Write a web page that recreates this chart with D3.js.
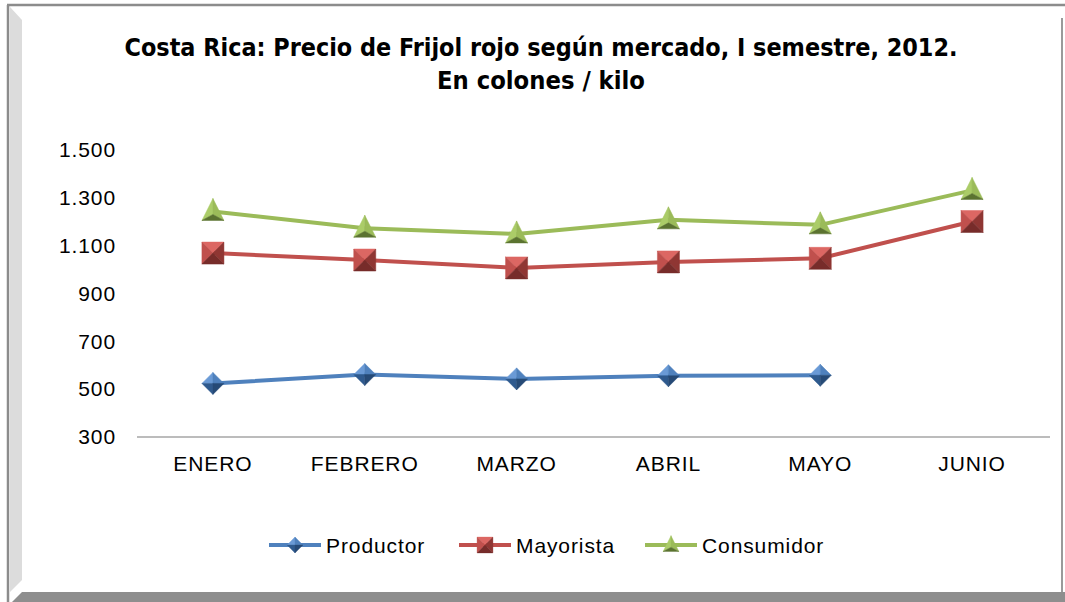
<!DOCTYPE html>
<html>
<head>
<meta charset="utf-8">
<script src="https://cdn.jsdelivr.net/npm/d3@7"></script>
<style>
  body { margin: 0; background: #fff; }
  svg { display: block; }
  .tick text, .leg { font-family: "Liberation Sans", Arial, sans-serif; font-size: 21px; letter-spacing: 0.9px; }
</style>
</head>
<body>
<div id="chart"></div>
<script>
// data
var meses = ["ENERO", "FEBRERO", "MARZO", "ABRIL", "MAYO", "JUNIO"];
var productor  = [524, 561, 543, 556, 558, null];
var mayorista  = [1069, 1040, 1007, 1032, 1047, 1201];
var consumidor = [1243, 1173, 1149, 1208, 1187, 1331];
var yTicks = [300, 500, 700, 900, 1100, 1300, 1500];
var nombres = ["Productor", "Mayorista", "Consumidor"];

var W = 1065, H = 602;
var svg = d3.select("#chart").append("svg").attr("width", W).attr("height", H);

// marco con bisel
svg.append("rect").attr("x", 0).attr("y", 0).attr("width", W).attr("height", H).attr("fill", "#fff");
svg.append("path").attr("d", "M7,5 H1065").attr("stroke", "#8c8c8c").attr("stroke-width", 2.5);
svg.append("path").attr("d", "M8,5 V602").attr("stroke", "#8c8c8c").attr("stroke-width", 2.5);
svg.append("path").attr("d", "M10,7 L22,20 L22,580 L10,592 Z").attr("fill", "#dcdcdc");
svg.append("path").attr("d", "M10,604 L22,592 L1065,592 L1065,614 L10,614 Z").attr("fill", "#8e8e8e");
svg.append("path").attr("d", "M1062,18 V592").attr("stroke", "#9a9a9a").attr("stroke-width", 2);

// titulo
var title = svg.append("text").attr("text-anchor", "middle")
  .style("font-family", "'Liberation Sans Narrow', 'DejaVu Sans Condensed', sans-serif")
  .style("font-weight", "bold").style("font-size", "24px").attr("fill", "#000");
title.append("tspan").attr("x", 541).attr("y", 56)
  .attr("textLength", 833).attr("lengthAdjust", "spacingAndGlyphs")
  .text("Costa Rica: Precio de Frijol rojo según mercado, I semestre, 2012.");
title.append("tspan").attr("x", 541).attr("y", 89)
  .attr("textLength", 208).attr("lengthAdjust", "spacingAndGlyphs")
  .text("En colones / kilo");

var m = { left: 137, right: 1048, top: 150, bottom: 437 };

var x = d3.scaleBand().domain(meses).range([m.left, m.right]);
var y = d3.scaleLinear().domain([300, 1500]).range([m.bottom, m.top]);

var loc = d3.formatLocale({ decimal: ",", thousands: ".", grouping: [3], currency: ["", ""] });
var fmt = loc.format(",d");

var yAxis = svg.append("g").attr("transform", "translate(" + m.left + ",0)")
  .call(d3.axisLeft(y).tickValues(yTicks).tickFormat(fmt).tickSize(0).tickPadding(21));
yAxis.select(".domain").remove();
yAxis.selectAll("text").attr("fill", "#000");

var xAxis = svg.append("g").attr("transform", "translate(0," + m.bottom + ")")
  .call(d3.axisBottom(x).tickSize(0).tickPadding(19));
xAxis.select(".domain").attr("stroke", "#a6a6a6").attr("stroke-width", 1.5).attr("d", "M" + m.left + ",0H" + (m.right + 2));
xAxis.selectAll("text").attr("fill", "#000");

var colores = [
  ["#6a9ad6", "#4f81bd", "#2f5a8e", "#264a76"],
  ["#dc6763", "#c0504d", "#8f3633", "#772c2a"],
  ["#abcc68", "#9bbb59", "#6f8a3a", "#5b7330"]
];
var formas = ["diamond", "square", "triangle"];

function marcador(g, forma, c) {
  var facetas;
  if (forma == "diamond") {
    var r = 11;
    facetas = [
      [[0, -r], [0, 0], [-r, 0], c[0]],
      [[0, -r], [r, 0], [0, 0], c[1]],
      [[-r, 0], [0, 0], [0, r], c[2]],
      [[0, 0], [r, 0], [0, r], c[3]]
    ];
  } else if (forma == "square") {
    var h = 11;
    facetas = [
      [[-h, -h], [h, -h], [0, 0], c[0]],
      [[-h, -h], [0, 0], [-h, h], c[1]],
      [[h, -h], [h, h], [0, 0], c[2]],
      [[-h, h], [0, 0], [h, h], c[3]]
    ];
  } else {
    facetas = [
      [[0, -13], [-11, 9], [0, 3], c[0]],
      [[0, -13], [0, 3], [11, 9], c[1]],
      [[-11, 9], [0, 3], [11, 9], c[3]]
    ];
  }
  facetas.forEach(function(f) {
    g.append("polygon").attr("points", f.slice(0, 3).map(function(p) { return p.join(","); }).join(" "))
      .attr("fill", f[3]).attr("stroke", f[3]).attr("stroke-width", 0.5);
  });
}

var series = [productor, mayorista, consumidor];
var cx = function(i) { return x(meses[i]) + x.bandwidth() / 2; };

series.forEach(function(vals, k) {
  var pts = vals.map(function(v, i) { return { i: i, v: v }; }).filter(function(d) { return d.v != null; });
  svg.append("path").datum(pts)
    .attr("fill", "none").attr("stroke", colores[k][1]).attr("stroke-width", 4).attr("stroke-linejoin", "round")
    .attr("d", d3.line().x(function(d) { return cx(d.i); }).y(function(d) { return y(d.v); }));
  pts.forEach(function(d) {
    var g = svg.append("g").attr("transform", "translate(" + cx(d.i) + "," + y(d.v) + ")");
    marcador(g, formas[k], colores[k]);
  });
});

// leyenda
var legX = [269, 459, 645];
nombres.forEach(function(n, k) {
  var g = svg.append("g").attr("transform", "translate(" + legX[k] + ",545)");
  g.append("line").attr("x1", 0).attr("x2", 52).attr("stroke", colores[k][1]).attr("stroke-width", 4);
  var mg = g.append("g").attr("transform", "translate(26,0) scale(0.72)");
  marcador(mg, formas[k], colores[k]);
  g.append("text").attr("class", "leg").attr("x", 57).attr("y", 7.5).text(n).attr("fill", "#000");
});
</script>
</body>
</html>
